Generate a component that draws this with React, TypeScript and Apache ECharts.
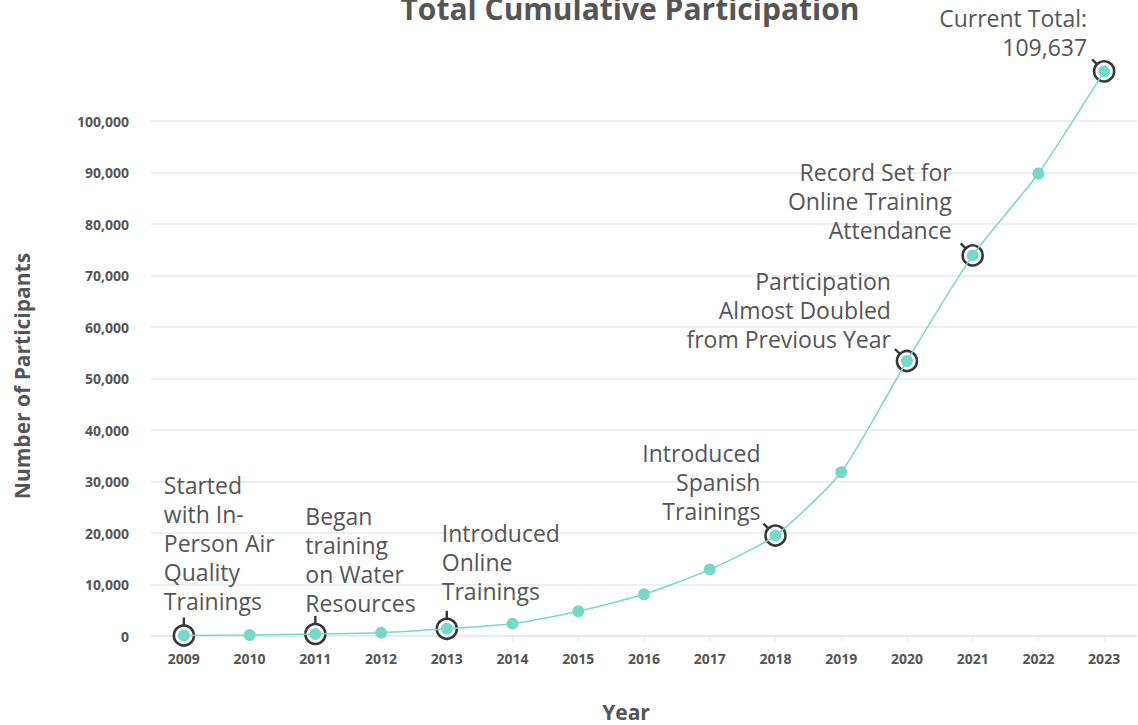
import React, { useEffect, useRef } from "react";
import * as echarts from "echarts";

const years = ["2009", "2010", "2011", "2012", "2013", "2014", "2015", "2016", "2017", "2018", "2019", "2020", "2021", "2022", "2023"];
const participants = [100, 200, 400, 650, 1400, 2400, 4800, 8100, 12900, 19500, 31800, 53400, 73900, 89800, 109637];
const yTicks = [0, 10000, 20000, 30000, 40000, 50000, 60000, 70000, 80000, 90000, 100000];

const annotatedYears = ["2009", "2011", "2013", "2018", "2020", "2021", "2023"];
const annotationTexts = [
  "Started\nwith In-\nPerson Air\nQuality\nTrainings",
  "Began\ntraining\non Water\nResources",
  "Introduced\nOnline\nTrainings",
  "Introduced\nSpanish\nTrainings",
  "Participation\nAlmost Doubled\nfrom Previous Year",
  "Record Set for\nOnline Training\nAttendance",
  "Current Total:\n109,637",
];

// layout for each annotation (offsets from the point, in px)
const annotationLayout = [
  { align: "left", dx: -20, dy: -20, tick: "v" },
  { align: "left", dx: -10, dy: -16, tick: "v" },
  { align: "left", dx: -5, dy: -23, tick: "v" },
  { align: "right", dx: -15, dy: -10, tick: "d" },
  { align: "right", dx: -16, dy: -7, tick: "d" },
  { align: "right", dx: -21, dy: -11, tick: "d" },
  { align: "right", dx: -17, dy: -10, tick: "d" },
];

const TEAL = "#76d8c9";
const GRID = "#e4e8ef";
const TEXT = "#555555";
const FONT = "'Open Sans', 'Noto Sans', sans-serif";

export default function App() {
  const ref = useRef<HTMLDivElement>(null);
  useEffect(() => {
    document.body.style.margin = "0";
    const chart = echarts.init(ref.current!, null, { renderer: "svg" });
    const ringData = annotatedYears.map((y) => {
      const i = years.indexOf(y);
      return [i, participants[i]];
    });
    const splitColors = yTicks.map(() => GRID).concat(["rgba(0,0,0,0)"]);
    chart.setOption({
      animation: false,
      textStyle: { fontFamily: FONT },
      grid: { left: 151, right: 1, top: 69.5, bottom: 89, containLabel: false, outerBoundsMode: "none" },
      xAxis: {
        type: "category",
        data: years,
        boundaryGap: true,
        axisLine: { lineStyle: { color: GRID, width: 1.5 } },
        axisTick: { show: true, alignWithLabel: true, length: 6, lineStyle: { color: GRID } },
        axisLabel: { fontSize: 14, fontWeight: "bold", color: TEXT, margin: 15, fontFamily: FONT },
      },
      yAxis: {
        type: "value",
        min: 0,
        max: 110000,
        interval: 10000,
        axisLine: { show: false },
        axisTick: { show: false },
        splitLine: { show: true, lineStyle: { color: splitColors, width: 1.5 } },
        axisLabel: {
          fontSize: 14,
          fontWeight: "bold",
          color: TEXT,
          margin: 22,
          fontFamily: FONT,
          formatter: (v: number) => (yTicks.indexOf(v) >= 0 ? v.toLocaleString("en-US") : ""),
        },
      },
      series: [
        {
          type: "scatter",
          data: ringData,
          symbol: "circle",
          symbolSize: 20,
          z: 1,
          itemStyle: { color: "#ffffff", borderColor: "#383838", borderWidth: 2.6, opacity: 1 },
        },
        {
          type: "line",
          data: participants,
          smooth: 0.2,
          symbol: "circle",
          symbolSize: 12,
          showSymbol: true,
          z: 3,
          lineStyle: { color: TEAL, width: 1.5 },
          itemStyle: { color: TEAL, borderWidth: 0, opacity: 1 },
        },
      ],
    });

    const graphics: any[] = [
      {
        type: "text",
        x: 630,
        y: 8,
        style: {
          text: "Total Cumulative Participation",
          fontSize: 30,
          fontWeight: "bold",
          fill: TEXT,
          fontFamily: FONT,
          align: "center",
          verticalAlign: "middle",
        },
      },
      {
        type: "text",
        x: 626,
        y: 712,
        style: {
          text: "Year",
          fontSize: 21,
          fontWeight: "bold",
          fill: TEXT,
          fontFamily: FONT,
          align: "center",
          verticalAlign: "middle",
        },
      },
      {
        type: "text",
        x: 22,
        y: 376,
        rotation: Math.PI / 2,
        style: {
          text: "Number of Participants",
          fontSize: 21,
          fontWeight: "bold",
          fill: TEXT,
          fontFamily: FONT,
          align: "center",
          verticalAlign: "middle",
        },
      },
    ];
    annotatedYears.forEach((y, k) => {
      const i = years.indexOf(y);
      const p = chart.convertToPixel({ seriesIndex: 1 }, [i, participants[i]]) as number[];
      const L = annotationLayout[k];
      graphics.push({
        type: "text",
        x: p[0] + L.dx,
        y: p[1] + L.dy,
        z: 10,
        style: {
          text: annotationTexts[k],
          fontSize: 23,
          lineHeight: 29,
          fill: TEXT,
          fontFamily: FONT,
          align: L.align,
          verticalAlign: "bottom",
        },
      });
      const shape =
        L.tick === "v"
          ? { x1: p[0], y1: p[1] - 9, x2: p[0], y2: p[1] - 18 }
          : { x1: p[0] - 7, y1: p[1] - 7, x2: p[0] - 12, y2: p[1] - 12 };
      graphics.push({
        type: "line",
        z: 10,
        shape,
        style: { stroke: "#383838", lineWidth: 2.4 },
      });
    });
    chart.setOption({ graphic: graphics });
    return () => chart.dispose();
  }, []);
  return <div ref={ref} style={{ position: "absolute", left: 0, top: 0, width: 1138, height: 725 }} />;
}
